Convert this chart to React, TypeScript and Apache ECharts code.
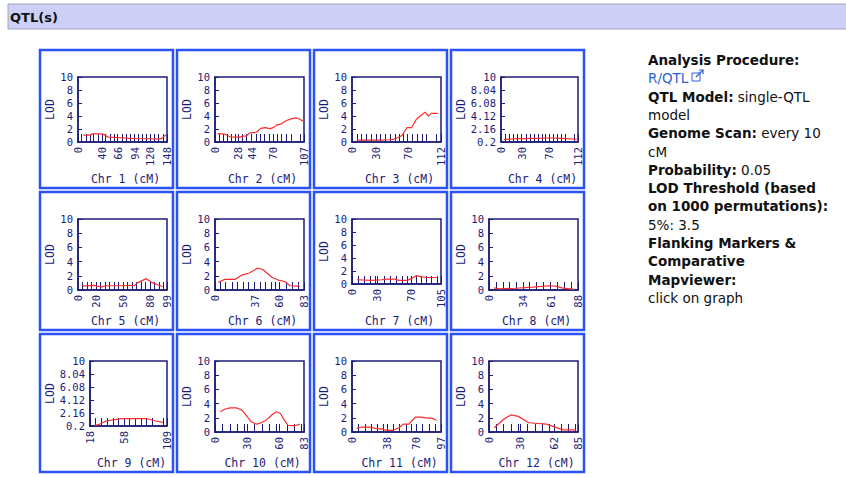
import React, { useEffect, useRef } from 'react';
import * as echarts from 'echarts';

const chromosomes = ['1', '2', '3', '4', '5', '6', '7', '8', '9', '10', '11', '12'];
const chrMin = [0, 0, 0, 0, 0, 0, 0, 0, 18, 0, 0, 0];
const chrMax = [148, 107, 112, 112, 99, 83, 105, 88, 109, 83, 97, 85];

const xLabelValues = [
  [0, 40, 66, 94, 120, 148],
  [0, 28, 44, 70, 97, 107],
  [0, 30, 70, 100, 112],
  [0, 30, 70, 102, 112],
  [0, 20, 50, 80, 99],
  [0, 37, 60, 83],
  [0, 30, 70, 105],
  [0, 34, 61, 88],
  [18, 58, 98, 109],
  [0, 30, 60, 83],
  [0, 38, 70, 97],
  [0, 30, 62, 85],
];

const markerPositions = [
  [0, 6, 13, 20, 26, 33, 40, 46, 53, 60, 66, 73, 80, 87, 94, 100, 107, 113, 120, 127, 134, 141, 148],
  [0, 5, 10, 15, 20, 24, 28, 33, 38, 44, 49, 54, 59, 65, 70, 75, 80, 86, 92, 97, 102, 107],
  [0, 6, 12, 18, 24, 30, 36, 42, 48, 54, 60, 65, 70, 76, 82, 88, 94, 100, 106, 112],
  [0, 6, 12, 18, 24, 30, 36, 42, 48, 54, 60, 65, 70, 76, 82, 88, 94, 102, 106, 112],
  [0, 5, 10, 15, 20, 25, 30, 35, 40, 45, 50, 55, 60, 65, 70, 75, 80, 85, 90, 95, 99],
  [0, 5, 10, 16, 21, 26, 31, 37, 42, 47, 52, 56, 60, 66, 72, 78, 83],
  [0, 7, 14, 21, 27, 30, 38, 45, 52, 59, 65, 70, 76, 82, 88, 94, 100, 105],
  [0, 7, 14, 20, 27, 34, 40, 47, 54, 61, 67, 74, 81, 88],
  [18, 24, 31, 38, 45, 51, 58, 64, 71, 78, 85, 92, 98, 104, 109],
  [0, 7, 14, 21, 27, 30, 37, 44, 51, 57, 60, 67, 74, 80, 83],
  [0, 7, 14, 21, 28, 34, 38, 45, 52, 59, 65, 70, 77, 84, 91, 97],
  [0, 7, 14, 21, 28, 30, 37, 44, 51, 58, 62, 69, 76, 82, 85],
];

const lodPositions = [
  [9, 20, 24, 40, 44, 50, 60, 72, 85, 99, 110, 120, 135, 140, 146],
  [3, 12, 18, 30, 34, 38, 42, 50, 55, 60, 66, 70, 74, 80, 86, 92, 98, 102, 106],
  [6, 17, 27, 35, 46, 52, 58, 63, 69, 75, 81, 88, 92, 96, 100, 108],
  [4, 15, 25, 35, 45, 55, 65, 75, 85, 95, 105, 110],
  [5, 18, 26, 31, 48, 63, 66, 76, 83, 94],
  [3, 9, 19, 25, 32, 40, 45, 53, 59, 65, 70, 79],
  [6, 23, 35, 41, 51, 55, 65, 71, 76, 82, 88, 100],
  [5, 10, 26, 43, 52, 59, 66, 72, 84],
  [24, 28, 37, 55, 86, 96, 104],
  [5, 9, 14, 20, 25, 30, 34, 39, 43, 48, 53, 57, 61, 64, 68, 74, 79],
  [5, 11, 20, 25, 33, 38, 45, 51, 56, 62, 65, 69, 76, 82, 87, 92],
  [5, 14, 21, 28, 38, 47, 55, 61, 71, 83],
];

const lodValues = [
  [1.05, 1.05, 1.25, 1.25, 1.1, 0.75, 0.7, 0.65, 0.55, 0.5, 0.5, 0.5, 0.45, 0.6, 1.1],
  [1.3, 1.2, 0.8, 0.75, 0.9, 0.95, 1.4, 1.5, 2.1, 2.2, 2.05, 2.2, 2.6, 2.8, 3.3, 3.6, 3.7, 3.5, 3.2],
  [0.3, 0.3, 0.3, 0.3, 0.35, 0.4, 0.7, 1.0, 2.2, 2.2, 3.5, 4.2, 4.6, 4.0, 4.4, 4.4],
  [0.55, 0.65, 0.7, 0.7, 0.75, 0.75, 0.8, 0.8, 0.75, 0.7, 0.65, 0.6],
  [0.55, 0.65, 0.4, 0.6, 0.6, 0.65, 1.0, 1.6, 1.0, 0.5],
  [1.05, 1.5, 1.5, 2.1, 2.4, 3.1, 2.85, 1.8, 1.4, 1.2, 0.6, 0.5],
  [0.65, 0.55, 0.65, 0.75, 0.75, 0.55, 0.55, 0.9, 1.3, 1.1, 1.0, 1.0],
  [0.3, 0.15, 0.25, 0.4, 0.5, 0.6, 0.55, 0.3, 0.1],
  [0.3, 0.4, 0.95, 1.3, 1.3, 0.95, 0.75],
  [2.85, 3.2, 3.4, 3.4, 3.1, 2.15, 1.4, 1.1, 1.3, 1.7, 2.4, 2.85, 2.6, 1.8, 0.95, 0.85, 1.1],
  [0.52, 0.7, 0.7, 0.52, 0.4, 0.24, 0.24, 0.6, 1.1, 1.1, 1.55, 2.1, 2.1, 1.95, 1.95, 1.65],
  [0.6, 1.8, 2.4, 2.2, 1.3, 1.2, 1.1, 0.8, 0.3, 0.3],
];

const yTicksStandard = [0, 2, 4, 6, 8, 10];
const yTicksScaled = [0.2, 2.16, 4.12, 6.08, 8.04, 10];
const scaledPanels = [3, 8];

const infoLines: [string, string][][] = [
  [['b', 'Analysis Procedure:']],
  [['l', 'R/QTL']],
  [['b', 'QTL Model:'], ['n', ' single-QTL']],
  [['n', 'model']],
  [['b', 'Genome Scan:'], ['n', ' every 10']],
  [['n', 'cM']],
  [['b', 'Probability:'], ['n', ' 0.05']],
  [['b', 'LOD Threshold (based']],
  [['b', 'on 1000 permutations):']],
  [['n', '5%: 3.5']],
  [['b', 'Flanking Markers &']],
  [['b', 'Comparative']],
  [['b', 'Mapviewer:']],
  [['n', 'click on graph']],
];

const NAVY = '#1c1c78';
const RED = '#ff2b2b';
const BOX = '#2b52f5';
const MONO = '"DejaVu Sans Mono", monospace';
const SANS = '"DejaVu Sans", Verdana, sans-serif';

export default function App() {
  const ref = useRef<HTMLDivElement>(null);
  useEffect(() => {
    if (!ref.current) return;
    const chart = echarts.init(ref.current, null, { renderer: 'svg' });
    const colX = [40, 177, 314, 451];
    const rowY = [50, 192, 334];
    const grids: any[] = [];
    const xAxes: any[] = [];
    const yAxes: any[] = [];
    const series: any[] = [];
    const graphics: any[] = [];

    graphics.push({
      type: 'rect',
      shape: { x: 8, y: 4, width: 846, height: 25 },
      style: { fill: '#cdcff6', stroke: '#a2a3bf', lineWidth: 1 },
      z: 1,
    });
    graphics.push({
      type: 'text',
      style: { x: 10, y: 17, text: 'QTL(s)', fontFamily: SANS, fontWeight: 'bold', fontSize: 13, fill: '#111', verticalAlign: 'middle' },
      z: 2,
    });

    chromosomes.forEach((chr, i) => {
      const col = i % 4;
      const row = Math.floor(i / 4);
      const bx = colX[col];
      const by = rowY[row];
      const scaled = scaledPanels.includes(i);
      const longLabels = xLabelValues[i].some((v) => String(v).length >= 3);
      const left = bx + (scaled ? 50 : 38);
      const right = bx + 127;
      const top = by + 27;
      const bottom = by + (longLabels ? 92 : 98);
      graphics.push({
        type: 'rect',
        shape: { x: bx, y: by, width: 133, height: 138 },
        style: { fill: '#fff', stroke: BOX, lineWidth: 2.5 },
        z: -10,
      });
      grids.push({
        left,
        top,
        width: right - left,
        height: bottom - top,
        show: true,
        backgroundColor: '#fff',
        borderColor: NAVY,
        borderWidth: 1.5,
        containLabel: false,
        outerBoundsMode: 'none',
        z: 0,
      });
      xAxes.push({
        type: 'value',
        gridIndex: i,
        min: chrMin[i],
        max: chrMax[i],
        z: 5,
        name: `Chr ${chr} (cM)`,
        nameLocation: 'middle',
        nameGap: by + 123 - bottom,
        nameTextStyle: { fontFamily: MONO, fontSize: 11.5, color: NAVY, padding: [0, 0, 0, 6] },
        axisLine: { show: true, lineStyle: { color: NAVY, width: 1.5 } },
        axisTick: { show: true, inside: true, length: 8, customValues: markerPositions[i], lineStyle: { color: NAVY, width: 1 } },
        axisLabel: {
          show: true,
          customValues: xLabelValues[i],
          rotate: 90,
          margin: 5,
          fontFamily: MONO,
          fontSize: 10.5,
          color: NAVY,
          showMinLabel: true,
          showMaxLabel: true,
        },
        splitLine: { show: false },
      });
      const yTicks = scaled ? yTicksScaled : yTicksStandard;
      yAxes.push({
        type: 'value',
        gridIndex: i,
        min: yTicks[0],
        max: 10,
        z: 5,
        name: 'LOD',
        nameLocation: 'middle',
        nameGap: left - (bx + 16),
        nameTextStyle: { fontFamily: MONO, fontSize: 11.5, color: NAVY },
        axisLine: { show: true, lineStyle: { color: NAVY, width: 1.5 } },
        axisTick: { show: true, inside: true, length: 4, customValues: yTicks, lineStyle: { color: NAVY, width: 1 } },
        axisLabel: {
          show: true,
          customValues: yTicks,
          margin: 5,
          fontFamily: MONO,
          fontSize: 10.5,
          color: NAVY,
          showMinLabel: true,
          showMaxLabel: true,
        },
        splitLine: { show: false },
      });
      series.push({
        type: 'line',
        xAxisIndex: i,
        yAxisIndex: i,
        data: lodPositions[i].map((p, k) => [p, lodValues[i][k]]),
        showSymbol: false,
        symbol: 'none',
        silent: true,
        lineStyle: { color: RED, width: 1.2 },
        z: 6,
      });
    });

    const infoX = 648;
    infoLines.forEach((line, k) => {
      const text = line.map(([s, t]) => `{${s}|${t}}`).join('');
      graphics.push({
        type: 'text',
        style: {
          x: infoX,
          y: 60 + k * 18.3,
          text,
          verticalAlign: 'middle',
          rich: {
            b: { fontFamily: SANS, fontSize: 13.5, fontWeight: 'bold', fill: '#111' },
            n: { fontFamily: SANS, fontSize: 13.5, fill: '#111' },
            l: { fontFamily: SANS, fontSize: 13.5, fill: '#2f5fd0' },
          },
        },
        z: 2,
      });
    });
    graphics.push({
      type: 'rect',
      shape: { x: 692, y: 73, width: 8, height: 8 },
      style: { fill: 'none', stroke: '#2f5fd0', lineWidth: 1 },
      z: 2,
    });
    graphics.push({
      type: 'line',
      shape: { x1: 696, y1: 77, x2: 703, y2: 70 },
      style: { stroke: '#2f5fd0', lineWidth: 1.2 },
      z: 2,
    });
    graphics.push({
      type: 'polyline',
      shape: { points: [[699, 70], [703, 70], [703, 74]] },
      style: { stroke: '#2f5fd0', lineWidth: 1.2, fill: 'none' },
      z: 2,
    });

    chart.setOption({
      animation: false,
      backgroundColor: '#ffffff',
      grid: grids,
      xAxis: xAxes,
      yAxis: yAxes,
      series,
      graphic: graphics,
    });
    return () => chart.dispose();
  }, []);
  return <div ref={ref} style={{ position: 'absolute', left: 0, top: 0, width: 846, height: 477 }} />;
}
